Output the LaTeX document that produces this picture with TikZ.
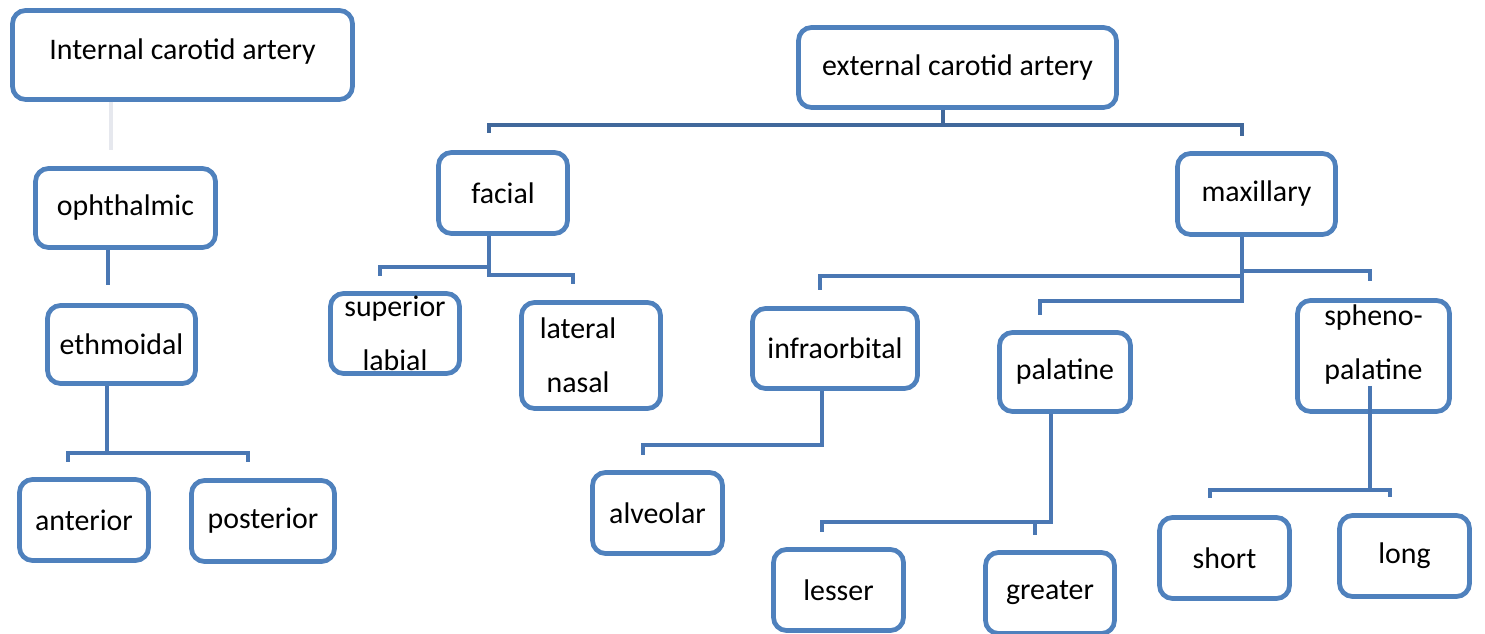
\documentclass[tikz,border=0pt]{standalone}
\usepackage{fontspec}
\setmainfont{Carlito}
\usetikzlibrary{calc}
\definecolor{boxblue}{HTML}{4F81BD}
\definecolor{linkblue}{HTML}{4A77B3}
\definecolor{topblue}{HTML}{41689B}
\definecolor{faintgrey}{HTML}{E6E8EE}
\begin{document}
\begin{tikzpicture}[x=0.02cm, y=-0.02cm,
		box/.style={draw=boxblue, line width=2.7pt, rounded corners=0.26cm, minimum width=2.6cm, minimum height=1.62cm, inner sep=0pt, font=\fontsize{17}{20}\selectfont},
		twoline/.style={align=center, font=\fontsize{17}{31}\selectfont},
		link/.style={draw=linkblue, line width=2.7pt},
		toplink/.style={draw=topblue, line width=2.7pt},
		faint/.style={draw=faintgrey, line width=2.7pt}]
		\useasboundingbox (0,0) rectangle (1485,634);

		% internal carotid side
		\node[box, minimum width=6.8cm, minimum height=1.78cm, text depth=7pt] at (182.5,55) (ica) {Internal carotid artery};
		\node[box, minimum width=3.6cm, minimum height=1.58cm] at (125.5,208) (oph) {ophthalmic};
		\node[box, minimum width=2.96cm, minimum height=1.56cm] at (121.5,344.5) (eth) {ethmoidal};
		\node[box, minimum width=2.58cm] at (84,520) (ant) {anterior};
		\node[box, minimum width=2.86cm] at (263,521) (post) {posterior};

		% external carotid side
		\node[box, minimum width=6.36cm, minimum height=1.6cm] at (957.5,67.5) (eca) {external carotid artery};
		\node[box, minimum width=2.58cm] at (503,193) (facial) {facial};
		\node[box, minimum width=3.16cm] at (1256.5,194) (max) {maxillary};
		\node[box, twoline, minimum width=2.58cm, minimum height=1.6cm] at (395,333.5) (sup) {superior\\labial};
		\node[box, twoline, minimum width=2.78cm, minimum height=2.12cm] at (591,355.5) (lat) {lateral\hspace*{0.52cm}\\nasal\hspace*{0.52cm}};
		\node[box, minimum width=3.3cm, minimum height=1.6cm] at (835,348.5) (infra) {infraorbital};
		\node[box, minimum width=2.62cm, minimum height=1.58cm] at (1065,372) (pal) {palatine};
		\node[box, twoline, minimum width=3.04cm, minimum height=2.22cm, text depth=16pt] at (1373.5,356) (sph) {spheno-\\palatine};
		\node[box] at (657.5,513) (alv) {alveolar};
		\node[box] at (838.5,590) (les) {lesser};
		\node[box, minimum width=2.58cm] at (1050,593) (gre) {greater};
		\node[box] at (1224.5,558) (sho) {short};
		\node[box] at (1404.5,556) (lon) {long};

		% free ends and forks
		\coordinate (oph-top) at (111,150);
		\coordinate (eth-top) at (108,285);
		\coordinate (eth-fork) at (107,453);
		\coordinate (ant-top) at (68,462);
		\coordinate (post-top) at (248,462);
		\coordinate (eca-fork) at (943,125);
		\coordinate (fac-top) at (489,133);
		\coordinate (max-top) at (1242,136);
		\coordinate (fac-stem) at (489,275);
		\coordinate (sup-top) at (380,276);
		\coordinate (lat-top) at (573,284);
		\coordinate (max-stem) at (1242,301);
		\coordinate (inf-top) at (820,290);
		\coordinate (sph-top) at (1370,281);
		\coordinate (pal-top) at (1040,315);
		\coordinate (inf-bend) at (822,445);
		\coordinate (alv-top) at (643,455);
		\coordinate (pal-fork) at (1051,522);
		\coordinate (les-top) at (822,532);
		\coordinate (gre-top) at (1035,535);
		\coordinate (sph-fork) at (1370,490);
		\coordinate (sho-top) at (1210,498);
		\coordinate (lon-top) at (1390,497);

		% connectors
		\draw[faint] (ica.south -| oph-top) -- (oph-top);
		\draw[link] (oph.south -| eth-top) -- (eth-top);
		\draw[link] (eth.south -| eth-fork) -- (eth-fork);
		\draw[link] (ant-top) |- (eth-fork) -| (post-top);

		\draw[toplink] (eca.south -| eca-fork) -- (eca-fork);
		\draw[toplink] (fac-top) |- (eca-fork) -| (max-top);

		\draw[link] (facial.south -| fac-stem) -- (fac-stem) -| (lat-top);
		\draw[link] (sup-top) -- ++(0,-9) -| (fac-stem);

		\draw[link] (max.south -| max-stem) -- (max-stem) -| (pal-top);
		\draw[link] (inf-top) -- ++(0,-14) -| (max-stem);
		\draw[link] (sph-top) -- ++(0,-10) -| (max-stem);

		\draw[link] (infra.south -| inf-bend) -- (inf-bend) -| (alv-top);
		\draw[link] (pal.south -| pal-fork) -- (pal-fork) -| (les-top);
		\draw[link] (gre-top) |- (pal-fork);
		\draw[link] ($(sph.south -| sph-fork)+(0,-28)$) -- (sph-fork);
		\draw[link] (sho-top) |- (sph-fork) -| (lon-top);
	\end{tikzpicture}
\end{document}
